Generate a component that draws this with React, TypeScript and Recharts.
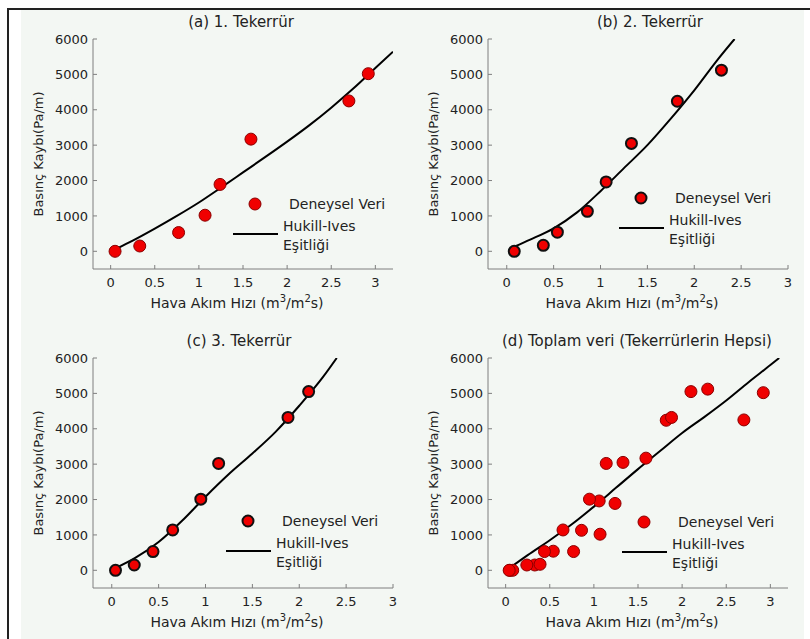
import React from 'react';
import { ComposedChart, Scatter, Line, XAxis, YAxis } from 'recharts';

// measured points: air flow (m3/m2s) and pressure drop (Pa/m)
const run1Flow = [0.05, 0.33, 0.77, 1.07, 1.24, 1.59, 2.7, 2.92];
const run1Drop = [0, 150, 530, 1020, 1890, 3170, 4250, 5020];
const run2Flow = [0.08, 0.39, 0.54, 0.86, 1.06, 1.33, 1.82, 2.29];
const run2Drop = [0, 170, 540, 1130, 1960, 3050, 4240, 5120];
const run3Flow = [0.04, 0.24, 0.44, 0.65, 0.95, 1.14, 1.88, 2.1];
const run3Drop = [0, 150, 530, 1140, 2010, 3020, 4320, 5050];

// Hukill-Ives curves
const fit1Flow = [0.07, 0.25, 0.5, 0.75, 1.0, 1.25, 1.5, 1.75, 2.0, 2.25, 2.5, 2.75, 3.0, 3.2];
const fit1Drop = [75, 300, 640, 1000, 1380, 1800, 2230, 2660, 3100, 3560, 4060, 4600, 5180, 5640];
const fit2Flow = [0.08, 0.25, 0.5, 0.75, 1.0, 1.25, 1.5, 1.75, 2.0, 2.25, 2.43];
const fit2Drop = [130, 330, 650, 1100, 1700, 2350, 3000, 3750, 4550, 5420, 6000];
const fit3Flow = [0.05, 0.25, 0.5, 0.75, 1.0, 1.25, 1.5, 1.75, 2.0, 2.25, 2.4];
const fit3Drop = [75, 350, 800, 1400, 2080, 2720, 3300, 3920, 4650, 5450, 6000];
const fitAllFlow = [0.05, 0.25, 0.5, 0.75, 1.0, 1.25, 1.5, 1.75, 2.0, 2.25, 2.5, 2.75, 3.0, 3.1];
const fitAllDrop = [75, 430, 850, 1300, 1800, 2330, 2860, 3370, 3880, 4330, 4800, 5310, 5800, 6000];

const xTicks = [0, 0.5, 1, 1.5, 2, 2.5, 3];
const yTicks = [0, 1000, 2000, 3000, 4000, 5000, 6000];

const BOX_W = 300;
const BOX_H = 230;
const AXIS_W = 73;
const TOP_M = 29;
const RIGHT_M = 10;
const GRAY = '#7f7f7f';
const FONT = '"DejaVu Sans", "Liberation Sans", sans-serif';

const zip = (xs: number[], ys: number[]) => xs.map((x, i) => ({ x, y: ys[i] }));

type PanelProps = {
  title: string;
  titleDx: number;
  left: number;
  top: number;
  xMax: number;
  points: { x: number; y: number }[];
  fit: { x: number; y: number }[];
  stroke: string;
  strokeW: number;
  legDx: number;
  legDy: number;
};

function Panel(p: PanelProps) {
  const r = p.strokeW > 1 ? 5.5 : 6;
  const dot = (props: any) => (
    <circle cx={props.cx} cy={props.cy} r={r} fill="#f00000" stroke={p.stroke} strokeWidth={p.strokeW} />
  );
  const domain: [number, number] = [-0.2, p.xMax];
  return (
    <>
      <div style={{ position: 'absolute', left: p.left - AXIS_W, top: p.top - TOP_M }}>
        <ComposedChart
          width={AXIS_W + BOX_W + RIGHT_M}
          height={TOP_M + BOX_H + 30}
          margin={{ top: TOP_M, right: RIGHT_M, bottom: 0, left: 0 }}
        >
          <XAxis
            type="number"
            dataKey="x"
            domain={domain}
            ticks={xTicks}
            allowDataOverflow
            height={30}
            stroke={GRAY}
            tickSize={-4}
            tickMargin={13}
            tick={{ fontSize: 13, fill: '#222' }}
          />
          <XAxis
            xAxisId="top"
            orientation="top"
            type="number"
            domain={domain}
            ticks={xTicks}
            allowDataOverflow
            height={0}
            stroke={GRAY}
            tickSize={-4}
            tick={false}
          />
          <YAxis
            type="number"
            dataKey="y"
            domain={[-500, 6000]}
            ticks={yTicks}
            allowDataOverflow
            width={AXIS_W}
            stroke={GRAY}
            tickSize={-4}
            tickMargin={9}
            tick={{ fontSize: 13, fill: '#222' }}
          />
          <YAxis
            yAxisId="right"
            orientation="right"
            type="number"
            domain={[-500, 6000]}
            ticks={yTicks}
            allowDataOverflow
            width={0}
            stroke={GRAY}
            tickSize={-4}
            tick={false}
          />
          <Line
            data={p.fit}
            dataKey="y"
            type="monotone"
            stroke="#000"
            strokeWidth={2}
            dot={false}
            isAnimationActive={false}
          />
          <Scatter data={p.points} dataKey="y" shape={dot} isAnimationActive={false} />
        </ComposedChart>
      </div>
      <div
        style={{
          position: 'absolute',
          left: p.left + p.titleDx,
          top: p.top - 26,
          width: BOX_W,
          textAlign: 'center',
          fontSize: 15,
          color: '#222',
          whiteSpace: 'nowrap',
        }}
      >
        {p.title}
      </div>
      <div
        style={{
          position: 'absolute',
          left: p.left - 6,
          top: p.top + BOX_H + 26,
          width: BOX_W,
          textAlign: 'center',
          fontSize: 14,
          color: '#222',
          whiteSpace: 'nowrap',
        }}
      >
        Hava Akım Hızı (m<sup style={{ fontSize: 10, lineHeight: 0 }}>3</sup>/m
        <sup style={{ fontSize: 10, lineHeight: 0 }}>2</sup>s)
      </div>
      <div
        style={{
          position: 'absolute',
          left: p.left - 55,
          top: p.top + BOX_H / 2,
          transform: 'translate(-50%, -50%) rotate(-90deg)',
          fontSize: 13,
          color: '#222',
          whiteSpace: 'nowrap',
        }}
      >
        Basınç Kaybı(Pa/m)
      </div>
      <svg
        width={BOX_W}
        height={BOX_H}
        style={{ position: 'absolute', left: p.left + p.legDx, top: p.top + p.legDy, overflow: 'visible' }}
      >
        <circle cx={155} cy={163} r={r} fill="#f00000" stroke={p.stroke} strokeWidth={p.strokeW} />
        <text x={189} y={163} dominantBaseline="central" fontSize={14} fill="#222">
          Deneysel Veri
        </text>
        <line x1={133} x2={178} y1={193} y2={193} stroke="#000" strokeWidth={2} />
        <text x={183} y={185} dominantBaseline="central" fontSize={14} fill="#222">
          Hukill-Ives
        </text>
        <text x={183} y={204} dominantBaseline="central" fontSize={14} fill="#222">
          Eşitliği
        </text>
      </svg>
    </>
  );
}

export default function App() {
  const all = [
    ...zip(run1Flow, run1Drop),
    ...zip(run2Flow, run2Drop),
    ...zip(run3Flow, run3Drop),
  ];
  return (
    <div
      style={{
        position: 'absolute',
        left: 0,
        top: 0,
        width: 810,
        height: 639,
        background: '#fff',
        fontFamily: FONT,
        overflow: 'hidden',
      }}
    >
      <div style={{ position: 'absolute', left: 21, top: 10, width: 783, height: 629, background: '#f3f7f3' }} />
      <div style={{ position: 'absolute', left: 7, top: 8, width: 803, height: 2, background: '#222' }} />
      <div style={{ position: 'absolute', left: 7, top: 8, width: 2, height: 631, background: '#222' }} />
      <Panel
        title="(a) 1. Tekerrür"
        titleDx={-2}
        left={93}
        top={39}
        xMax={3.2}
        points={zip(run1Flow, run1Drop)}
        fit={zip(fit1Flow, fit1Drop)}
        stroke="#8a0000"
        strokeW={1}
        legDx={7}
        legDy={2}
      />
      <Panel
        title="(b) 2. Tekerrür"
        titleDx={12}
        left={488}
        top={39}
        xMax={3}
        points={zip(run2Flow, run2Drop)}
        fit={zip(fit2Flow, fit2Drop)}
        stroke="#111"
        strokeW={2}
        legDx={-2}
        legDy={-4}
      />
      <Panel
        title="(c) 3. Tekerrür"
        titleDx={-4}
        left={93}
        top={358}
        xMax={3}
        points={zip(run3Flow, run3Drop)}
        fit={zip(fit3Flow, fit3Drop)}
        stroke="#111"
        strokeW={2}
        legDx={0}
        legDy={0}
      />
      <Panel
        title="(d) Toplam veri (Tekerrürlerin Hepsi)"
        titleDx={-1}
        left={488}
        top={358}
        xMax={3.2}
        points={all}
        fit={zip(fitAllFlow, fitAllDrop)}
        stroke="#8a0000"
        strokeW={1}
        legDx={1}
        legDy={1}
      />
    </div>
  );
}
